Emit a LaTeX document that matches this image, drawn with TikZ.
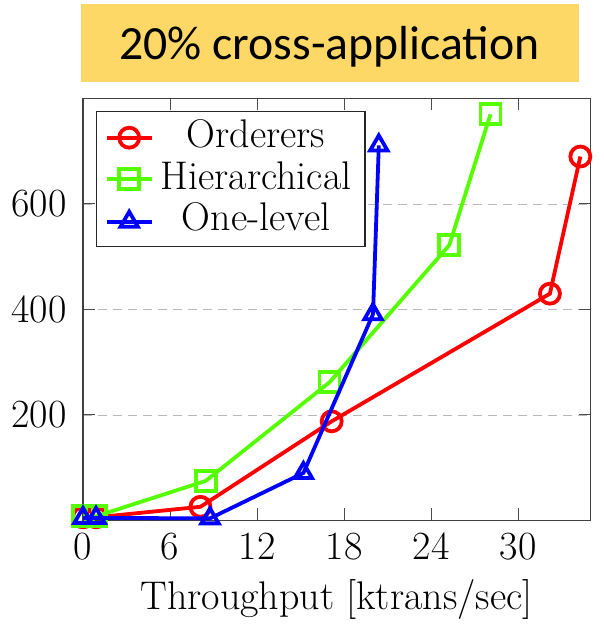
\documentclass[tikz,border=0pt]{standalone}
\usepackage{fontspec}
\newfontfamily\titlefont{Carlito}
\usetikzlibrary{plotmarks}
\definecolor{titlebg}{RGB}{254,216,102}
\definecolor{plotgreen}{RGB}{85,255,0}
\definecolor{plotred}{RGB}{255,0,0}
\definecolor{plotblue}{RGB}{0,0,255}
\begin{document}
\begin{tikzpicture}[x=1pt,y=1pt,
  font=\fontsize{40}{48}\selectfont,
  gridline/.style={gray!55, line width=0.9pt, dash pattern=on 9pt off 6pt},
  axisline/.style={black!75, line width=1.1pt},
  tickmark/.style={black!70, line width=1.0pt},
  series/.style={line width=3.8pt, mark size=10pt, mark options={solid}},
  orderers/.style={series, plotred, mark=o},
  hier/.style={series, plotgreen, mark=square},
  onelevel/.style={series, plotblue, mark=triangle},
  legendbox/.style={draw=black!85, fill=white, line width=1.1pt}]
\useasboundingbox (0,0) rectangle (603,627);
% title
\fill[titlebg] (81,545) rectangle (579,623);
\node[font=\titlefont\fontsize{47.7}{56}\selectfont, anchor=base, inner sep=0pt] (title) at (329.5,567.7) {20\% cross-application};
\begin{scope}[shift={(83,106.5)}, x=14.5pt, y=0.5275pt]
  % grid
  \foreach \y in {200,400,600} \draw[gridline] (0,\y) -- (35,\y);
  % ticks
  \foreach \x in {0,6,12,18,24,30} {
    \draw[tickmark] (\x,0) -- ++(0pt,12pt);
    \draw[tickmark] (\x,800) -- ++(0pt,-12pt);
    \node[anchor=base, inner sep=0pt, yshift=-39.1pt] (xt\x) at (\x,0) {\x};
  }
  \foreach \y in {200,400,600} {
    \draw[tickmark] (0,\y) -- ++(12pt,0pt);
    \draw[tickmark] (35,\y) -- ++(-12pt,0pt);
    \node[anchor=east, inner sep=0pt, xshift=-16.3pt] (yt\y) at (0,\y) {\y};
  }
  % frame
  \draw[axisline] (0,0) rectangle (35,800);
  % data
  \draw[orderers] plot coordinates {(0,6) (0.9,6) (8.1,26) (17.15,188) (32.2,430) (34.3,690)};
  \draw[hier] plot coordinates {(0,8) (0.9,8) (8.46,75) (17.0,262) (25.26,522) (28.1,770)};
  \draw[onelevel] plot coordinates {(0,5) (0.9,5) (8.76,4) (15.2,90) (20.0,391) (20.4,711)};
\end{scope}
% legend
\draw[legendbox] (96.7,380.3) rectangle (365,515.3);
\draw[orderers, mark indices={2}] plot coordinates {(106.7,489.3) (129.2,489.3) (151.7,489.3)};
\draw[hier, mark indices={2}] plot coordinates {(106.7,447.7) (129.2,447.7) (151.7,447.7)};
\draw[onelevel, mark indices={2}] plot coordinates {(106.7,405.3) (129.2,405.3) (151.7,405.3)};
\node[anchor=base, inner sep=0pt] (lg1) at (256,479.7) {Orderers};
\node[anchor=base, inner sep=0pt] (lg2) at (256,437) {Hierarchical};
\node[anchor=base, inner sep=0pt] (lg3) at (256,396) {One-level};
% x label
\node[anchor=base, inner sep=0pt] (xlabel) at (336.5,17) {Throughput [ktrans/sec]};
\end{tikzpicture}
\end{document}
